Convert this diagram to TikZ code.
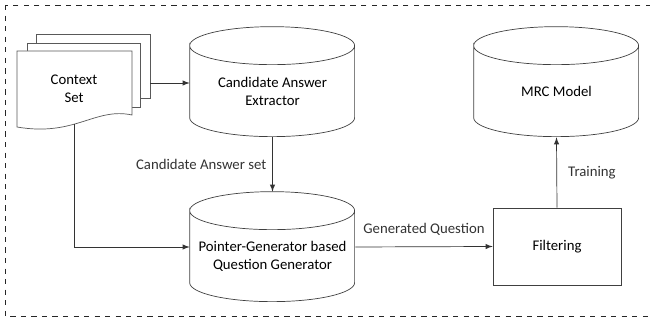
\documentclass[tikz,border=0pt]{standalone}
\usepackage{fontspec}
\setmainfont{Carlito}

\begin{document}
\begin{tikzpicture}[x=0.02cm,y=-0.02cm,
    every node/.style={font=\fontsize{8.4}{10}\selectfont},
    db/.style={minimum width=3.3cm,minimum height=2.2cm,
        append after command={(\tikzlastnode.north west) ++(0,-0.38cm)
            edge[draw=black!75,to path={arc[start angle=180,end angle=-180,x radius=1.65cm,y radius=0.38cm]
                -- ++(0,-1.44cm) arc[start angle=180,end angle=360,x radius=1.65cm,y radius=0.38cm]
                -- ++(0,1.44cm)}] (\tikzlastnode.south)}},
    dbtext/.style={align=center,yshift=-0.19cm},
    page/.style={draw=black!65,fill=white},
    arr/.style={-latex,black!80}]
    \useasboundingbox (0,0) rectangle (650,320);
    \draw[dashed,black!85] (5,5) rectangle (660,316);
    % context set
    \draw[page] (36,34) rectangle (150,98);
    \draw[page] (27,43) rectangle (140,107);
    \draw[page] (17,51) -- (132,51) -- (132,115) .. controls (95,107) and (75,137) .. (17,127) -- cycle;
    \node[align=center] (ctx) at (74,89) {Context\\Set};
    \coordinate (ctxtop) at (150,83);
    \coordinate (ctxbot) at (74,124);
    % blocks
    \node[db,label={[dbtext]center:{Candidate Answer\\Extractor}}] (cae) at (272.5,82) {};
    \node[db,label={[dbtext]center:{Pointer-Generator based\\Question Generator}}] (qg) at (272.5,247) {};
    \node[db,label={[dbtext]center:MRC Model}] (mrc) at (556.5,82) {};
    \node[draw=black!75,minimum width=2.56cm,minimum height=1.54cm] (filt) at (557,246.5) {Filtering};
    % arrows
    \draw[arr] (ctxtop) -- (ctxtop -| cae.west);
    \draw[arr] (ctxbot) |- (qg.west);
    \draw[arr] (cae.south) -- node[left] {Candidate Answer set} (qg.north);
    \draw[arr] (qg.east) -- node[above=3pt] {Generated Question} (filt.west);
    \draw[arr] (filt.north) -- node[right=3pt] {Training} (mrc.south);
\end{tikzpicture}
\end{document}
